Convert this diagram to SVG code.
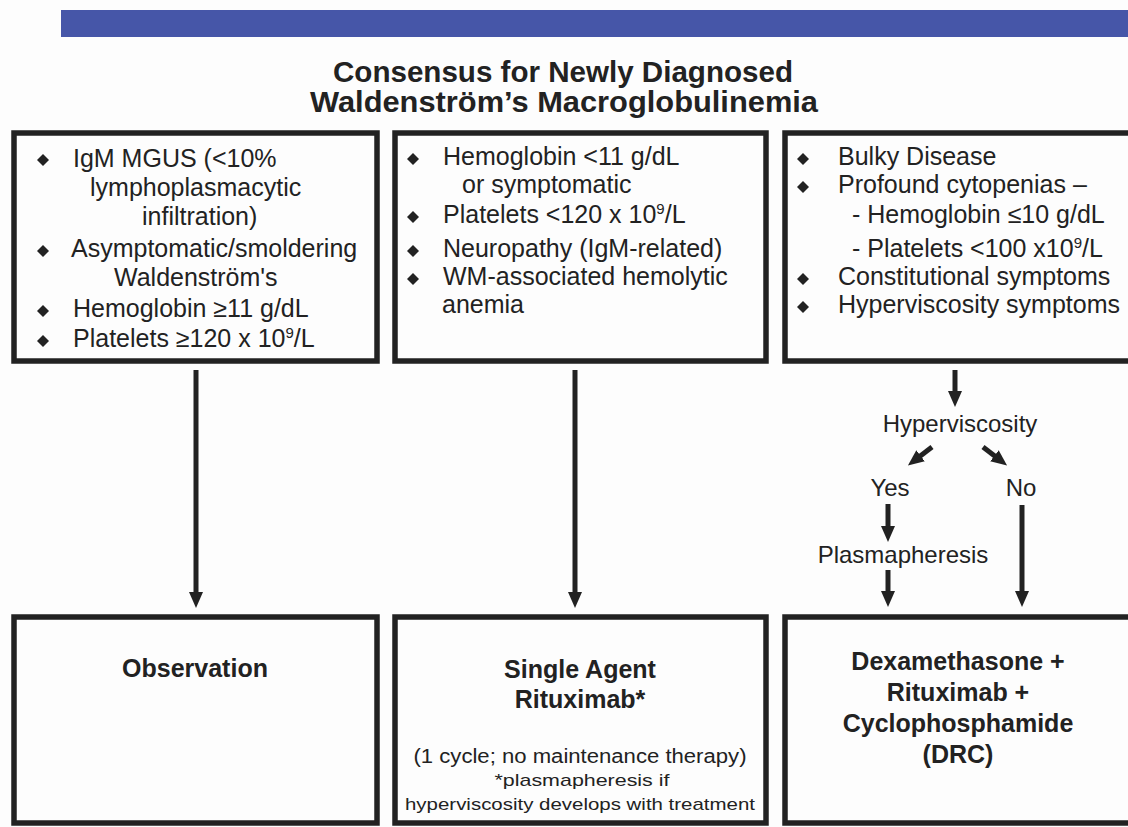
<svg xmlns="http://www.w3.org/2000/svg" width="1128" height="827" viewBox="0 0 1128 827">
<style>
.box{fill:#fdfdfd;stroke:#222;stroke-width:5.5}
.t{font-family:"Liberation Sans",Arial,sans-serif;font-size:25px;fill:#222}
.b{font-family:"Liberation Sans",Arial,sans-serif;font-size:25px;font-weight:bold;fill:#222;text-anchor:middle}
.s{font-family:"Liberation Sans",Arial,sans-serif;fill:#222;text-anchor:middle}
.c{font-family:"Liberation Sans",Arial,sans-serif;font-size:24px;fill:#222;text-anchor:middle}
.title{font-family:"Liberation Sans Narrow","Liberation Sans",Arial,sans-serif;font-size:29px;font-weight:bold;fill:#222;text-anchor:middle}
.ln{stroke:#222;stroke-width:5;fill:none}
.sup{font-size:15px}
</style>
<defs>
<path id="dia" d="M0,-6 L6,0 L0,6 L-6,0 Z" fill="#222"/>
<marker id="ah" markerUnits="userSpaceOnUse" markerWidth="16" markerHeight="16" refX="2" refY="8" orient="auto" viewBox="0 0 16 16">
<path d="M0,1 L16,8 L0,15 Z" fill="#222"/>
</marker>
</defs>
<rect width="1128" height="827" fill="#fdfdfd"/>
<rect x="61" y="10" width="1067" height="27" fill="#4656a8"/>
<g id="title">
<text class="title" x="563" y="82" textLength="460" lengthAdjust="spacingAndGlyphs">Consensus for Newly Diagnosed</text>
<text class="title" x="564" y="112" textLength="508" lengthAdjust="spacingAndGlyphs">Waldenström’s Macroglobulinemia</text>
</g>
<g id="box-criteria-1">
<rect class="box" x="14" y="133" width="363" height="228"/>
<use href="#dia" x="43" y="160"/>
<use href="#dia" x="43" y="251"/>
<use href="#dia" x="43" y="311"/>
<use href="#dia" x="43" y="341"/>
<text class="t" x="73" y="167">IgM MGUS (&lt;10%</text>
<text class="t" x="90" y="196">lymphoplasmacytic</text>
<text class="t" x="142" y="225">infiltration)</text>
<text class="t" x="71" y="257">Asymptomatic/smoldering</text>
<text class="t" x="114" y="286">Waldenström's</text>
<text class="t" x="73" y="317">Hemoglobin ≥11 g/dL</text>
<text class="t" x="73" y="347">Platelets ≥120 x 10<tspan class="sup" dy="-9">9</tspan><tspan dy="9">/L</tspan></text>
</g>
<g id="box-criteria-2">
<rect class="box" x="395" y="133" width="371" height="228"/>
<use href="#dia" x="413" y="159"/>
<use href="#dia" x="413" y="217"/>
<use href="#dia" x="413" y="251"/>
<use href="#dia" x="413" y="279"/>
<text class="t" x="443" y="165">Hemoglobin &lt;11 g/dL</text>
<text class="t" x="462" y="193">or symptomatic</text>
<text class="t" x="443" y="223">Platelets &lt;120 x 10<tspan class="sup" dy="-9">9</tspan><tspan dy="9">/L</tspan></text>
<text class="t" x="443" y="257">Neuropathy (IgM-related)</text>
<text class="t" x="443" y="285">WM-associated hemolytic</text>
<text class="t" x="442" y="313">anemia</text>
</g>
<g id="box-criteria-3">
<rect class="box" x="785" y="133" width="360" height="228"/>
<use href="#dia" x="803" y="159"/>
<use href="#dia" x="803" y="187"/>
<use href="#dia" x="803" y="279"/>
<use href="#dia" x="803" y="307"/>
<text class="t" x="838" y="165">Bulky Disease</text>
<text class="t" x="838" y="193">Profound cytopenias –</text>
<text class="t" x="852" y="223">- Hemoglobin ≤10 g/dL</text>
<text class="t" x="852" y="257">- Platelets &lt;100 x10<tspan class="sup" dy="-9">9</tspan><tspan dy="9">/L</tspan></text>
<text class="t" x="838" y="285">Constitutional symptoms</text>
<text class="t" x="838" y="313">Hyperviscosity symptoms</text>
</g>
<g id="decision">
<text class="c" x="960" y="432">Hyperviscosity</text>
<text class="c" x="890" y="496">Yes</text>
<text class="c" x="1021" y="496">No</text>
<text class="c" x="903" y="563">Plasmapheresis</text>
</g>
<g id="box-observation">
<rect class="box" x="14" y="617" width="363" height="206"/>
<text class="b" x="195" y="677">Observation</text>
</g>
<g id="box-rituximab">
<rect class="box" x="395" y="617" width="371" height="206"/>
<text class="b" x="580" y="678">Single Agent</text>
<text class="b" x="580" y="708">Rituximab*</text>
<text class="s" x="580" y="763" font-size="20" textLength="333" lengthAdjust="spacingAndGlyphs">(1 cycle; no maintenance therapy)</text>
<text class="s" x="582" y="786" font-size="17" textLength="175" lengthAdjust="spacingAndGlyphs">*plasmapheresis if</text>
<text class="s" x="580" y="810" font-size="17" textLength="350" lengthAdjust="spacingAndGlyphs">hyperviscosity develops with treatment</text>
</g>
<g id="box-drc">
<rect class="box" x="785" y="617" width="360" height="206"/>
<text class="b" x="958" y="670">Dexamethasone +</text>
<text class="b" x="958" y="701">Rituximab +</text>
<text class="b" x="958" y="732">Cyclophosphamide</text>
<text class="b" x="958" y="763">(DRC)</text>
</g>
<g id="connectors">
<line class="ln" x1="196" y1="370" x2="196" y2="594" marker-end="url(#ah)"/>
<line class="ln" x1="575" y1="370" x2="575" y2="594" marker-end="url(#ah)"/>
<line class="ln" x1="955" y1="370" x2="955" y2="393" marker-end="url(#ah)"/>
<line class="ln" x1="932" y1="447" x2="919" y2="457" marker-end="url(#ah)"/>
<line class="ln" x1="983" y1="447" x2="996" y2="457" marker-end="url(#ah)"/>
<line class="ln" x1="888" y1="504" x2="888" y2="528" marker-end="url(#ah)"/>
<line class="ln" x1="888" y1="570" x2="888" y2="593" marker-end="url(#ah)"/>
<line class="ln" x1="1022" y1="505" x2="1022" y2="593" marker-end="url(#ah)"/>
</g>
</svg>
